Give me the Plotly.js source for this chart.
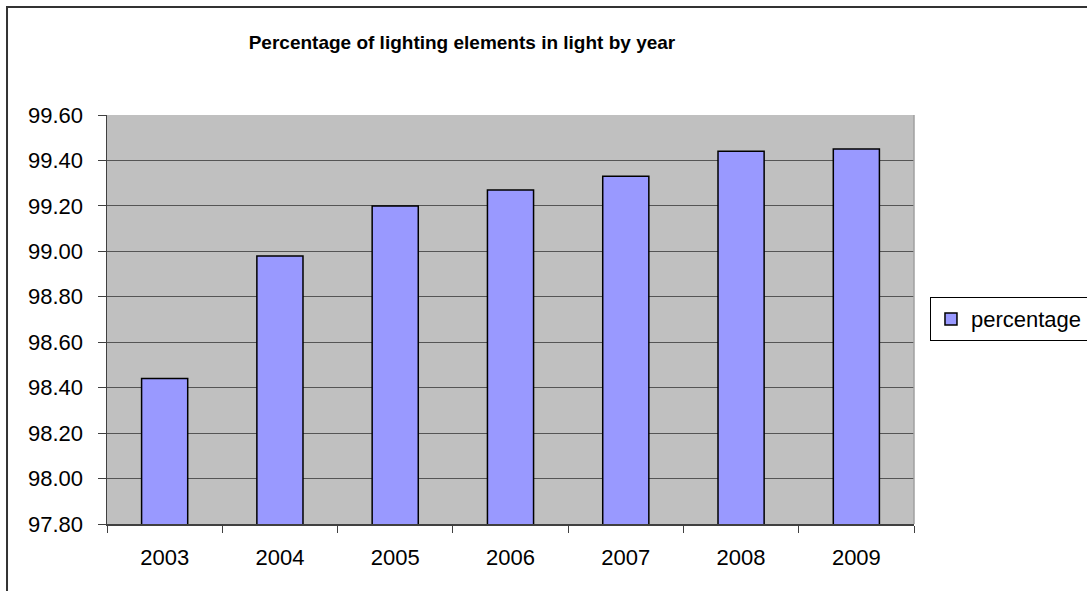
<!DOCTYPE html>
<html>
<head>
<meta charset="utf-8">
<script src="https://cdn.plot.ly/plotly-3.0.1.min.js"></script>
<style>html,body{margin:0;padding:0;background:#fff;}#chart{width:1087px;height:591px;}</style>
</head>
<body>
<div id="chart"></div>
<script>
var years = ['2003', '2004', '2005', '2006', '2007', '2008', '2009'];
var percentage = [98.44, 98.98, 99.20, 99.27, 99.33, 99.44, 99.45];
var seriesName = 'percentage';
var chartTitle = 'Percentage of lighting elements in light by year';

var FONT = '"Liberation Sans", Arial, sans-serif';

var trace = {
  type: 'bar',
  x: years,
  y: percentage,
  name: seriesName,
  marker: {color: '#9999FF', line: {color: '#000000', width: 1.5}},
  hoverinfo: 'x+y'
};

var layout = {
  width: 1087,
  height: 591,
  margin: {l: 107, r: 173, t: 115, b: 67, autoexpand: false},
  paper_bgcolor: '#FFFFFF',
  plot_bgcolor: '#C0C0C0',
  font: {family: FONT, size: 22, color: '#000000'},
  bargap: 0.6,
  showlegend: true,
  title: {
    text: '<b>' + chartTitle + '</b>',
    font: {family: FONT, size: 19, color: '#000000'},
    x: 0.425, xref: 'container', xanchor: 'center',
    y: 0.928, yref: 'container', yanchor: 'middle',
    automargin: false
  },
  xaxis: {
    type: 'category',
    showline: true, linecolor: '#404040', linewidth: 1.5,
    ticks: 'outside', tickson: 'boundaries', ticklen: 7, tickcolor: '#404040', tickwidth: 1,
    showgrid: false, zeroline: false,
    tickfont: {family: FONT, size: 22, color: '#000000'},
    ticklabelstandoff: 13,
    automargin: false
  },
  yaxis: {
    range: [97.8, 99.6],
    dtick: 0.2, tick0: 97.8,
    tickformat: '.2f',
    showline: true, linecolor: '#404040', linewidth: 1.5,
    ticks: 'outside', ticklen: 8, tickcolor: '#404040', tickwidth: 1,
    showgrid: true, gridcolor: '#555555', gridwidth: 1,
    zeroline: false,
    tickfont: {family: FONT, size: 22, color: '#000000'},
    ticklabelstandoff: 10,
    automargin: false
  },
  legend: {
    x: 1.0198, xanchor: 'left', xref: 'paper',
    y: 0.501, yanchor: 'middle',
    bordercolor: '#000000', borderwidth: 1,
    bgcolor: '#FFFFFF',
    font: {family: FONT, size: 22, color: '#000000'}
  },
  shapes: [
    {type: 'rect', xref: 'paper', yref: 'paper', x0: -0.1239, x1: 1.6, y0: -0.5, y1: 1.2641,
     line: {color: '#333333', width: 2}, fillcolor: 'rgba(0,0,0,0)', layer: 'below'},
    {type: 'line', xref: 'paper', yref: 'paper', x0: 1, x1: 1, y0: 0, y1: 1,
     line: {color: '#A0A0A0', width: 1.5}}
  ]
};

Plotly.newPlot('chart', [trace], layout, {displayModeBar: false, staticPlot: true});
</script>
</body>
</html>
